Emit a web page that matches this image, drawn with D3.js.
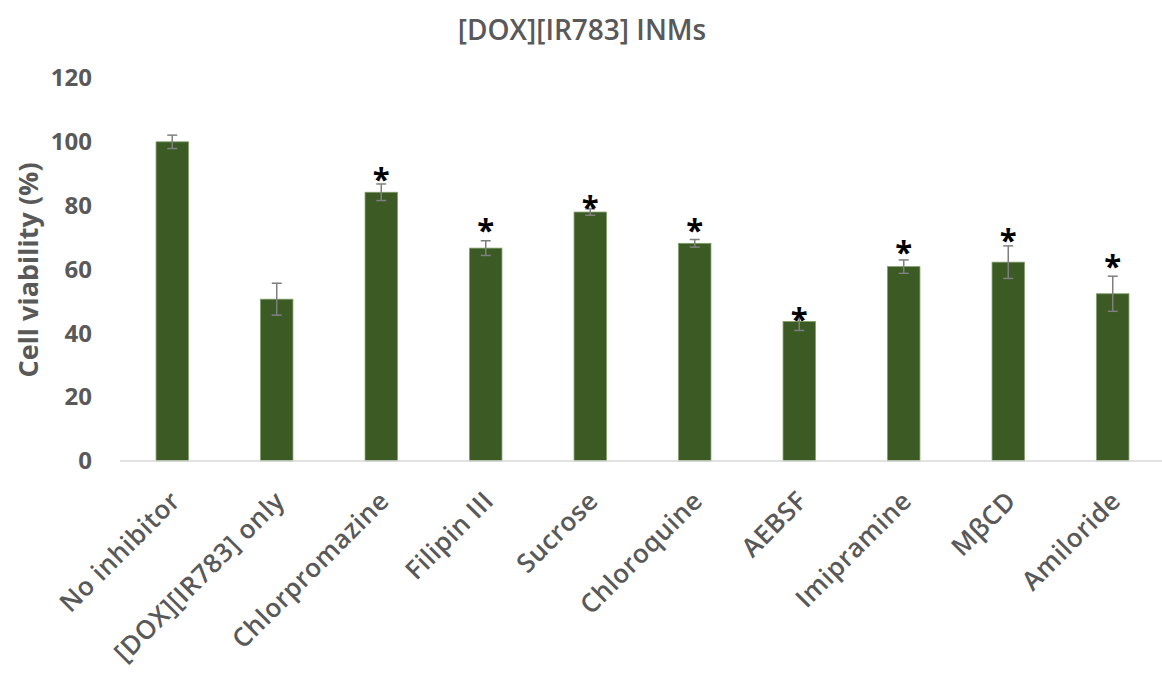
<!DOCTYPE html>
<html lang="en">
<head>
<meta charset="utf-8">
<title>[DOX][IR783] INMs</title>
<script src="https://d3js.org/d3.v7.min.js"></script>
<style>
body { margin:0; background:#fff; }
svg text { font-family: 'Open Sans', sans-serif; fill:#595959; }
.title { font-size:28px; font-weight:600; }
.tick text { font-size:24px; font-weight:700; }
.ytitle { font-size:27px; font-weight:700; }
.xlab { font-size:26px; font-weight:600; letter-spacing:0.5px; }
.star { font-size:31px; font-weight:700; fill:#000 !important; }
</style>
</head>
<body>
<div id="chart"></div>
<script>
var categories = ["No inhibitor", "[DOX][IR783] only", "Chlorpromazine", "Filipin III", "Sucrose",
                  "Chloroquine", "AEBSF", "Imipramine", "M\u03B2CD", "Amiloride"];
var viability = [100, 50.7, 84.2, 66.7, 78.0, 68.2, 43.7, 60.9, 62.3, 52.4];
var errors    = [2.1, 5.0, 2.6, 2.3, 1.0, 1.2, 2.8, 2.1, 5.1, 5.5];
// where the significance star sits (in % units), null = no star
var starAt    = [null, null, 90.7, 74.7, 81.8, 74.7, 46.8, 67.7, 71.4, 63.2];
var yTicks    = [0, 20, 40, 60, 80, 100, 120];

var width = 1162, height = 677;
var x0 = 120, x1 = 1165, yTop = 78, yBot = 461;

var svg = d3.select("#chart").append("svg").attr("width", width).attr("height", height);

var x = d3.scaleBand().domain(categories).range([x0, x1]).paddingInner(0.69).paddingOuter(0.345);
var y = d3.scaleLinear().domain([0, 120]).range([yBot, yTop]);

svg.append("text").attr("class","title").attr("x", 582).attr("y", 40)
    .attr("text-anchor","middle").text("[DOX][IR783] INMs");

// y axis labels only (no line)
var yAxis = svg.append("g").attr("transform","translate(" + (x0 - 10) + ",0)")
    .call(d3.axisLeft(y).tickValues(yTicks).tickSize(0).tickPadding(18));
yAxis.select(".domain").remove();

svg.append("text").attr("class","ytitle")
    .attr("transform","translate(38,270) rotate(-90)")
    .attr("text-anchor","middle").text("Cell viability (%)");

// bars
svg.selectAll("rect.bar").data(categories).enter().append("rect").attr("class","bar")
    .attr("x", function(d){ return x(d); })
    .attr("width", x.bandwidth())
    .attr("y", function(d,i){ return y(viability[i]); })
    .attr("height", function(d,i){ return yBot - y(viability[i]); })
    .attr("fill","#3b5a24").attr("stroke","#7e9e68").attr("stroke-width",0.8);

// baseline
svg.append("line").attr("x1", x0).attr("x2", width).attr("y1", yBot).attr("y2", yBot)
    .attr("stroke","#d9d9d9").attr("stroke-width",1.5);

// error bars
var eb = svg.selectAll("g.err").data(categories).enter().append("g").attr("class","err")
    .attr("stroke","#7f7f7f").attr("stroke-width",1.5);
eb.append("line")
    .attr("x1", function(d){ return x(d) + x.bandwidth()/2; })
    .attr("x2", function(d){ return x(d) + x.bandwidth()/2; })
    .attr("y1", function(d,i){ return y(viability[i] + errors[i]); })
    .attr("y2", function(d,i){ return y(viability[i] - errors[i]); });
[1, -1].forEach(function(s){
  eb.append("line")
    .attr("x1", function(d){ return x(d) + x.bandwidth()/2 - 5; })
    .attr("x2", function(d){ return x(d) + x.bandwidth()/2 + 5; })
    .attr("y1", function(d,i){ return y(viability[i] + s*errors[i]); })
    .attr("y2", function(d,i){ return y(viability[i] + s*errors[i]); });
});

// stars
svg.selectAll("text.star").data(categories.filter(function(d,i){ return starAt[i] != null; }))
  .enter().append("text").attr("class","star")
    .attr("x", function(d){ return x(d) + x.bandwidth()/2; })
    .attr("y", function(d){ return y(starAt[categories.indexOf(d)]) + 18; })
    .attr("text-anchor","middle").text("*");

// x labels
svg.selectAll("text.xlab").data(categories).enter().append("text").attr("class","xlab")
    .attr("transform", function(d){ return "translate(" + (x(d) + x.bandwidth()/2 + 3) + "," + (yBot + 35) + ") rotate(-45)"; })
    .attr("text-anchor","end").attr("dy","0.35em").text(function(d){ return d; });
</script>
</body>
</html>
